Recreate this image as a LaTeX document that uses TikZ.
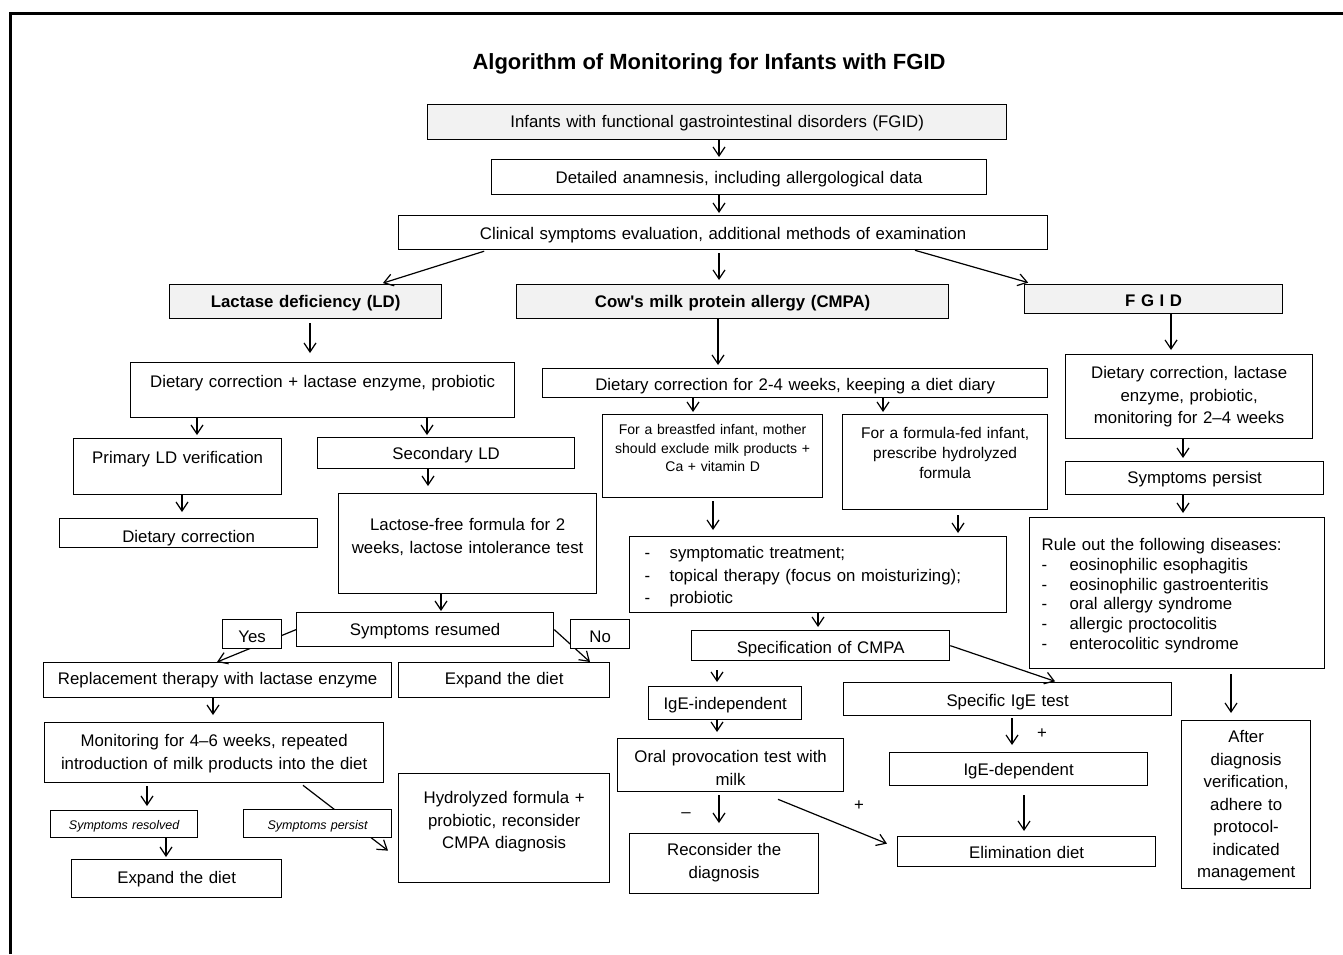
\documentclass[tikz,border=0pt]{standalone}
\usepackage{fontspec}
\setmainfont{Liberation Sans}
\usetikzlibrary{
  arrows.meta,
  calc
}
\definecolor{headgray}{RGB}{242,242,242}

\begin{document}
\begin{tikzpicture}[x=1pt, y=-1pt,
  font=\fontsize{16.8}{22.5}\selectfont,
  cell/.style n args={3}{draw, line width=1.3pt, inner sep=0pt, anchor=north west,
    align=center, text width=#1, text height=#2, text depth=#3},
  head/.style={fill=headgray, font=\fontsize{16.8}{22.5}\selectfont\bfseries},
  tag/.style={fill=white, font=\fontsize{12.5}{15}\selectfont\itshape},
  flow/.style={-{Straight Barb[length=9pt, width=12pt]}, line width=1.2pt}
]
  \useasboundingbox (0,0) rectangle (1343,954);

  % outer frame (only left and top edges are visible)
  \draw[line width=3pt] (10,954) -- (10,13) -- (1343,13);

  \node[font=\fontsize{22}{26}\selectfont\bfseries, anchor=base] (title) at (709,69)
    {Algorithm of Monitoring for Infants with FGID};

  % ---- top chain ----
  \node[cell={579pt}{23pt}{12pt}, fill=headgray] (inf) at (427,104)
    {Infants with functional gastrointestinal disorders (FGID)};
  \node[cell={495pt}{24pt}{11pt}] (det) at (491,159)
    {Detailed anamnesis, including allergological data};
  \node[cell={649pt}{24pt}{10pt}] (clin) at (398,215)
    {Clinical symptoms evaluation, additional methods of examination};

  % ---- three diagnoses ----
  \node[cell={272pt}{23pt}{11pt}, head] (ld) at (169,284) {Lactase deficiency (LD)};
  \node[cell={432pt}{23pt}{11pt}, head] (cmpa) at (516,284)
    {Cow\textquotesingle s milk protein allergy (CMPA)};
  \node[cell={258pt}{22pt}{7pt}, head] (fgid) at (1024,284) {F G I D};

  % ---- LD branch ----
  \node[cell={384pt}{25pt}{30pt}] (dlac) at (130,362)
    {Dietary correction + lactase enzyme, probiotic};
  \node[cell={208pt}{25pt}{31pt}] (prim) at (73,438) {Primary LD verification};
  \node[cell={257pt}{22pt}{9pt}] (sec) at (317,437) {Secondary LD};
  \node[cell={258pt}{24pt}{5pt}] (dcor) at (59,518) {Dietary correction};
  \node[cell={258pt}{37pt}{63pt}] (lfree) at (338,493)
    {Lactose-free formula for 2\\weeks, lactose intolerance test};
  \node[cell={257pt}{23pt}{11pt}] (sres) at (296,612) {Symptoms resumed};
  \node[cell={348pt}{22pt}{13pt}] (repl) at (43,662)
    {Replacement therapy with lactase enzyme};
  \node[cell={211pt}{22pt}{13pt}] (expr) at (398,662) {Expand the diet};
  \node[cell={339pt}{24pt}{36pt}] (mon) at (44,722)
    {Monitoring for 4–6 weeks, repeated\\introduction of milk products into the diet};
  \node[cell={147pt}{19pt}{8pt}, tag] (sresd) at (50,810) {Symptoms resolved};
  \node[cell={210pt}{24pt}{14pt}] (expb) at (71,859) {Expand the diet};
  \node[cell={211pt}{30pt}{79pt}] (hydro) at (398,773)
    {Hydrolyzed formula +\\probiotic, reconsider\\CMPA diagnosis};

  % ---- CMPA branch ----
  \node[cell={505pt}{22pt}{7pt}] (dc24) at (542,368)
    {Dietary correction for 2-4 weeks, keeping a diet diary};
  \node[cell={220pt}{20pt}{63pt}, font=\fontsize{14}{18.5}\selectfont] (breast) at (602,414)
    {For a breastfed infant, mother\\should exclude milk products +\\Ca + vitamin D};
  \node[cell={205pt}{24pt}{71pt}, font=\fontsize{15.5}{20}\selectfont] (formula) at (842,414)
    {For a formula-fed infant,\\prescribe hydrolyzed\\formula};
  \node[cell={347pt}{22pt}{54pt}, inner xsep=15pt, align=left] (sympt) at (629,536)
    {\makebox[25pt][l]{-}symptomatic treatment;\\
     \makebox[25pt][l]{-}topical therapy (focus on moisturizing);\\
     \makebox[25pt][l]{-}probiotic};
  \node[cell={258pt}{23pt}{7pt}] (spec) at (691,630) {Specification of CMPA};
  \node[cell={153pt}{23pt}{10pt}] (igei) at (648,686) {IgE-independent};
  \node[cell={328pt}{24pt}{9pt}] (sige) at (843,682) {Specific IgE test};
  \node[cell={226pt}{24pt}{29pt}] (oral) at (617,738) {Oral provocation test with\\milk};
  \node[cell={189pt}{22pt}{38pt}] (recon) at (629,833) {Reconsider the\\diagnosis};
  \node[cell={258pt}{23pt}{10pt}] (iged) at (889,752) {IgE-dependent};
  \node[cell={258pt}{22pt}{8pt}] (elim) at (897,836) {Elimination diet};

  % ---- FGID branch ----
  \node[cell={247pt}{24pt}{60pt}] (fdiet) at (1065,354)
    {Dietary correction, lactase\\enzyme, probiotic,\\monitoring for 2–4 weeks};
  \node[cell={258pt}{22pt}{11pt}] (fpers) at (1065,461) {Symptoms persist};
  \node[cell={271pt}{33pt}{118pt}, inner xsep=12pt, align=left,
        font=\fontsize{16.8}{19.7}\selectfont] (rule) at (1029,517)
    {Rule out the following diseases:\\
     \makebox[28pt][l]{-}eosinophilic esophagitis\\
     \makebox[28pt][l]{-}eosinophilic gastroenteritis\\
     \makebox[28pt][l]{-}oral allergy syndrome\\
     \makebox[28pt][l]{-}allergic proctocolitis\\
     \makebox[28pt][l]{-}enterocolitic syndrome};
  \node[cell={129pt}{22pt}{146pt}] (after) at (1181,720)
    {After\\diagnosis\\verification,\\adhere to\\protocol-\\indicated\\management};

  % ---- connectors ----
  \draw[flow, shorten >=2pt] (inf.south -| 719,0) -- (det.north -| 719,0);
  \draw[flow, shorten >=2pt] (det.south -| 719,0) -- (clin.north -| 719,0);
  \draw[flow, shorten <=3pt, shorten >=3pt] (clin.south -| 487,0) -- (ld.north -| 380,0);
  \draw[flow, shorten <=3pt, shorten >=4pt] (clin.south -| 719,0) -- (cmpa.north -| 719,0);
  \draw[flow, shorten >=5pt] (clin.south -| 915,0) -- (fgid.north -| 1033,0);

  % LD
  \draw[flow, shorten <=4pt, shorten >=9pt] (ld.south -| 310,0) -- (dlac.north -| 310,0);
  \draw[flow, shorten >=3pt] (dlac.south -| 197,0) -- (prim.north -| 197,0);
  \draw[flow, shorten >=2pt] (dlac.south -| 427,0) -- (sec.north -| 427,0);
  \draw[flow, shorten >=6pt] (prim.south -| 182,0) -- (dcor.north -| 182,0);
  \draw[flow, shorten >=7pt] (sec.south -| 428,0) -- (lfree.north -| 428,0);
  \draw[flow, shorten >=1pt] (lfree.south -| 441,0) -- (sres.north -| 441,0);
  \draw[flow] (sres.west) -- (repl.north -| 217,0);
  \draw[flow] (sres.east) -- (expr.north -| 590,0);
  \draw[flow, shorten >=7pt] (repl.south -| 213,0) -- (mon.north -| 213,0);
  \draw[flow, shorten <=3pt, shorten >=4pt] (mon.south -| 147,0) -- (sresd.north -| 147,0);
  \draw[flow] ($(mon.south -| 303,0)+(0,2)$) -- ($(hydro.west)+(-10,22.5)$);
  \draw[flow, shorten >=2pt] (sresd.south -| 166,0) -- (expb.north -| 166,0);

  % CMPA
  \draw[flow, shorten >=3pt] (cmpa.south -| 718,0) -- (dc24.north -| 718,0);
  \draw[flow, shorten >=2pt] (dc24.south -| 693,0) -- (breast.north -| 693,0);
  \draw[flow, shorten >=2pt] (dc24.south -| 883,0) -- (formula.north -| 883,0);
  \draw[flow, shorten <=3pt, shorten >=6pt] (breast.south -| 713,0) -- (sympt.north -| 713,0);
  \draw[flow, shorten <=5pt, shorten >=3pt] (formula.south -| 958,0) -- (sympt.north -| 958,0);
  \draw[flow, shorten >=3pt] (sympt.south -| 818,0) -- (spec.north -| 818,0);
  \draw[flow, shorten <=9pt, shorten >=4pt] (spec.south -| 717,0) -- (igei.north -| 717,0);
  \draw[flow, shorten >=2pt] (spec.east) -- (sige.north -| 1057,0);
  \draw[flow, shorten >=6pt] (igei.south -| 717,0) -- (oral.north -| 717,0);
  \draw[flow, shorten <=3pt, shorten >=10pt] (oral.south -| 719,0) -- (recon.north -| 719,0);
  \draw[flow] ($(oral.south -| 778,0)+(0,7)$) -- ($(elim.west)+(-10,-8)$);
  \draw[flow, shorten <=2pt, shorten >=7pt] (sige.south -| 1012,0) -- (iged.north -| 1012,0);
  \draw[flow, shorten <=9pt, shorten >=5pt] (iged.south -| 1024,0) -- (elim.north -| 1024,0);

  % FGID
  \draw[flow, shorten >=4pt] (fgid.south -| 1171,0) -- (fdiet.north -| 1171,0);
  \draw[flow, shorten >=3pt] (fdiet.south -| 1183,0) -- (fpers.north -| 1183,0);
  \draw[flow, shorten >=4pt] (fpers.south -| 1183,0) -- (rule.north -| 1183,0);
  \draw[flow, shorten <=5pt, shorten >=7pt] (rule.south -| 1231,0) -- (after.north -| 1231,0);

  % ---- answer tags (on top of the lines) ----
  \node[cell={59pt}{23pt}{6pt}, fill=white] (yes) at (222,619) {Yes};
  \node[cell={59pt}{23pt}{6pt}, fill=white] (no) at (570,619) {No};
  \node[cell={148pt}{20pt}{8pt}, tag] (spers) at (243,809) {Symptoms persist};
  \node[anchor=base] (minus) at (686,817) {–};
  \node[anchor=base] (plusa) at (859,810) {+};
  \node[anchor=base] (plusb) at (1042,738) {+};

\end{tikzpicture}
\end{document}
